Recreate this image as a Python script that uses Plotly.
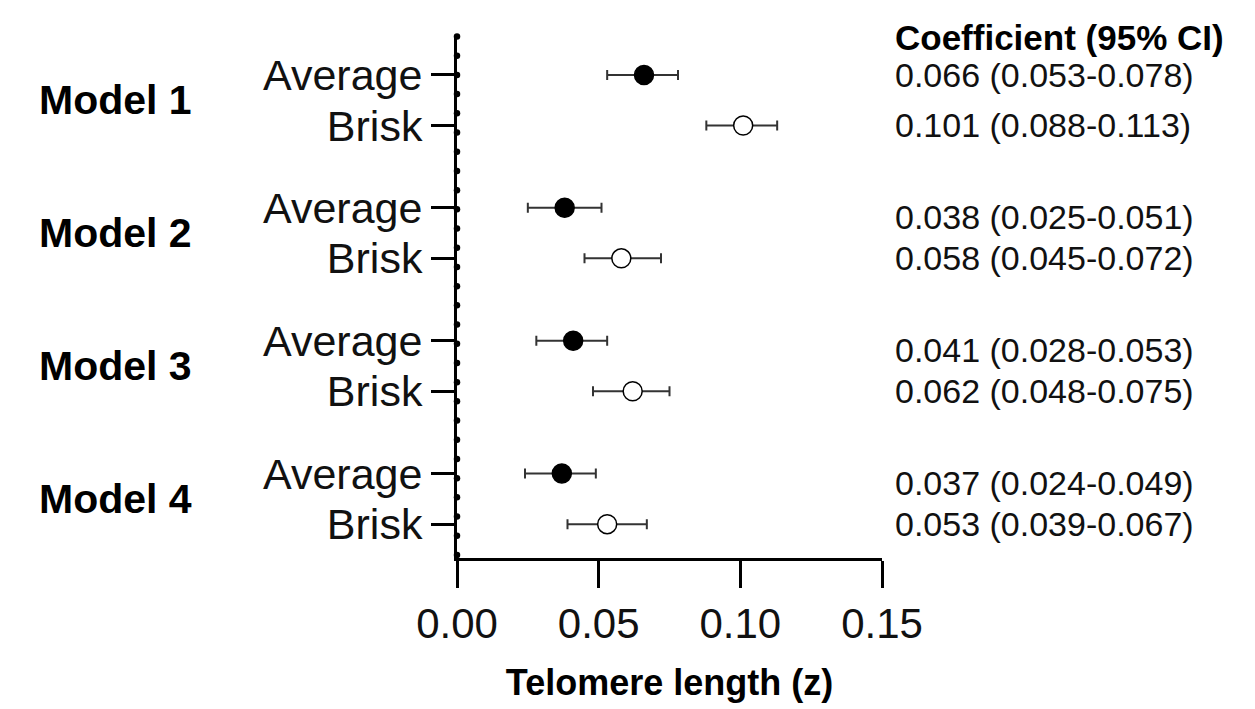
import numpy as np
import plotly.graph_objects as go

models = ["Model 1", "Model 2", "Model 3", "Model 4"]
groups = ["Average", "Brisk"]
avg_coef = [0.066, 0.038, 0.041, 0.037]
avg_lo = [0.053, 0.025, 0.028, 0.024]
avg_hi = [0.078, 0.051, 0.053, 0.049]
brisk_coef = [0.101, 0.058, 0.062, 0.053]
brisk_lo = [0.088, 0.045, 0.048, 0.039]
brisk_hi = [0.113, 0.072, 0.075, 0.067]
x_ticks = [0.00, 0.05, 0.10, 0.15]
header = "Coefficient (95% CI)"
x_title = "Telomere length (z)"

FONT = "Arial, Liberation Sans, Helvetica, sans-serif"
GAP = 2.63  # vertical spacing between models (row units)
avg_y = [k * GAP for k in range(len(models))]
brisk_y = [k * GAP + 1 for k in range(len(models))]
y_range = [9.56, -0.79]

fig = go.Figure()

# dotted minor ticks along the y axis
dots_y = np.linspace(-0.76, 9.5, 28)
fig.add_trace(go.Scatter(x=np.zeros_like(dots_y), y=dots_y, mode="markers",
                         marker=dict(size=6.5, color="black"), cliponaxis=False,
                         hoverinfo="skip", showlegend=False))

def err(c, lo, hi):
    return dict(type="data", symmetric=False,
                array=[h - v for v, h in zip(c, hi)],
                arrayminus=[v - l for v, l in zip(c, lo)],
                color="#333333", thickness=2, width=5)

fig.add_trace(go.Scatter(x=avg_coef, y=avg_y, mode="markers", name="Average",
                         error_x=err(avg_coef, avg_lo, avg_hi),
                         marker=dict(size=19, color="black", line=dict(color="black", width=1.5)),
                         cliponaxis=False, showlegend=False))
fig.add_trace(go.Scatter(x=brisk_coef, y=brisk_y, mode="markers", name="Brisk",
                         error_x=err(brisk_coef, brisk_lo, brisk_hi),
                         marker=dict(size=19, color="white", line=dict(color="black", width=1.5)),
                         cliponaxis=False, showlegend=False))

tickvals, ticktext = [], []
for k in range(len(models)):
    tickvals += [avg_y[k], brisk_y[k]]
    ticktext += groups

annotations = []
for k, m in enumerate(models):
    annotations.append(dict(x=-0.988, xref="paper", y=avg_y[k] + 0.5, yref="y",
                            text=m, showarrow=False, xanchor="left", yanchor="middle",
                            font=dict(family=FONT, size=41, color="black", weight="bold")))
    annotations.append(dict(x=1.026, xref="paper", y=avg_y[k], yref="y",
                            text=f"{avg_coef[k]:.3f} ({avg_lo[k]:.3f}-{avg_hi[k]:.3f})",
                            showarrow=False, xanchor="left", yanchor="middle",
                            yshift=0 if k == 0 else -9,
                            font=dict(family=FONT, size=34, color="#111111")))
    annotations.append(dict(x=1.026, xref="paper", y=brisk_y[k], yref="y",
                            text=f"{brisk_coef[k]:.3f} ({brisk_lo[k]:.3f}-{brisk_hi[k]:.3f})",
                            showarrow=False, xanchor="left", yanchor="middle",
                            font=dict(family=FONT, size=34, color="#111111")))
annotations.append(dict(x=1.026, xref="paper", y=-0.75, yref="y", text=header,
                        showarrow=False, xanchor="left", yanchor="middle",
                        font=dict(family=FONT, size=35, color="black", weight="bold")))

fig.update_layout(
    width=1255, height=709,
    margin=dict(l=449, r=381, t=27, b=159),
    plot_bgcolor="white", paper_bgcolor="white",
    font=dict(family=FONT, color="black"),
    annotations=annotations,
    xaxis=dict(range=[0, 0.15], tickvals=x_ticks, ticktext=[f"{v:.2f}" for v in x_ticks],
               showgrid=False, zeroline=False, showline=True, linecolor="black", linewidth=3,
               ticks="outside", ticklen=27, tickwidth=3, tickcolor="black",
               tickfont=dict(size=42, family=FONT, color="#111111"),
               title=dict(text=x_title, standoff=24,
                          font=dict(size=36, family=FONT, color="black", weight="bold"))),
    yaxis=dict(range=y_range, tickvals=tickvals, ticktext=ticktext,
               showgrid=False, zeroline=False, showline=True, linecolor="black", linewidth=3,
               ticks="outside", ticklen=23, tickwidth=2.5, tickcolor="black",
               ticklabelstandoff=0,
               tickfont=dict(size=43, family=FONT, color="#111111")),
)

fig.write_html("out.html")
